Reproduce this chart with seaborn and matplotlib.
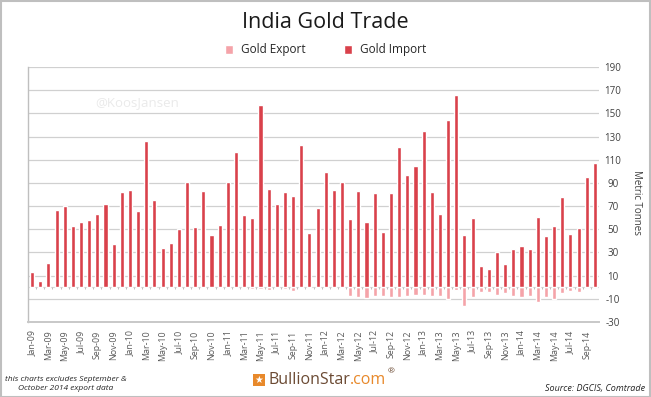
import numpy as np
import pandas as pd
import matplotlib
matplotlib.use("Agg")
import matplotlib.pyplot as plt
from matplotlib.patches import Rectangle
import seaborn as sns

# ---------------- data ----------------
month_abbr = ["Jan", "Feb", "Mar", "Apr", "May", "Jun",
              "Jul", "Aug", "Sep", "Oct", "Nov", "Dec"]
years = [9, 10, 11, 12, 13, 14]
months = [f"{m}-{y:02d}" for y in years for m in month_abbr][:70]

gold_import = [13, 5, 21, 67, 70, 53, 56, 58, 63, 72, 37, 82,
               84, 66, 126, 75, 34, 38, 50, 91, 52, 83, 45, 54,
               91, 117, 62, 60, 157, 85, 72, 82, 79, 123, 47, 68,
               99, 84, 91, 59, 83, 56, 81, 48, 81, 121, 97, 105,
               135, 82, 63, 144, 166, 45, 60, 18, 16, 30, 20, 33,
               36, 33, 61, 44, 53, 78, 46, 51, 95, 107]

gold_export = [-0.3, -0.3, -0.3, -0.3, -0.3, -0.3, -0.3, -0.3, -0.3, -0.3, -0.3, -0.3,
               -0.3, -0.3, -0.3, -0.3, -0.3, -0.3, -0.3, -0.3, -0.3, -0.3, -0.3, -0.5,
               -0.5, -1, -1, -1.5, -1.5, -2.5, -1, -1.5, -3, -1, -1, -1,
               -1, -1, -1, -7.3, -8.4, -9.3, -7.6, -7.6, -8.2, -8.2, -7.9, -6.5,
               -7, -7.3, -7.6, -10, -2, -16.2, -8.2, -4.3, -4, -7, -4.8, -7.3,
               -8.2, -7.3, -12.6, -8.2, -10, -5.4, -3.2, -3.7, 0, 0]

y_ticks = list(range(-30, 191, 20))

IMP_COLOR = "#D9414B"
EXP_COLOR = "#F5A3A9"

df = pd.DataFrame({"month": months, "imp": gold_import, "exp": gold_export})

# ---------------- figure ----------------
sns.set_theme(style="white")
plt.rcParams["font.family"] = ["Open Sans", "DejaVu Sans"]

W, H = 651, 397
fig = plt.figure(figsize=(W / 100, H / 100), dpi=100)
ax = fig.add_axes([28 / W, (H - 322) / H, 571 / W, 255 / H])

ax.axhline(0, color="#d9d9d9", lw=0.8, zorder=0.5)
ax.vlines(np.arange(-0.5, len(months), 1), 0, -1.3, color="#bfbfbf", lw=0.7, zorder=0.5)

sns.barplot(data=df, x="month", y="exp", color=EXP_COLOR, width=0.5,
            errorbar=None, saturation=1, ax=ax, label="Gold Export")
sns.barplot(data=df, x="month", y="imp", color=IMP_COLOR, width=0.5,
            errorbar=None, saturation=1, ax=ax, label="Gold Import")

ax.set_xlim(-0.5, len(months) - 0.5)
ax.set_ylim(y_ticks[0], y_ticks[-1])
ax.set_xlabel("")
ax.set_ylabel("")

ax.yaxis.tick_right()
ax.set_yticks(y_ticks)
ax.set_yticklabels([str(t) for t in y_ticks], ha="center")
ax.yaxis.grid(True, color="#d0d0d0", lw=0.9)
ax.set_axisbelow(True)
ax.tick_params(axis="y", length=0, pad=10, labelsize=7, labelcolor="#404040")

ax.set_xticks(range(0, len(months), 2))
ax.set_xticklabels(months[::2], rotation=90, fontsize=6.4, color="#595959")
ax.tick_params(axis="x", length=0, pad=6)

for s in ["top", "right"]:
    ax.spines[s].set_visible(False)
ax.spines["left"].set_color("#bfbfbf")
ax.spines["left"].set_linewidth(1)
ax.spines["bottom"].set_color("#c8c8c8")
ax.spines["bottom"].set_linewidth(1.4)

handles, labels = ax.get_legend_handles_labels()
if ax.get_legend() is not None:
    ax.get_legend().remove()
fig.legend(handles, labels, loc="center", bbox_to_anchor=(0.5, 1 - 50 / H),
           ncol=2, frameon=False, fontsize=8.5, handlelength=0.7, handleheight=0.7,
           columnspacing=3.2, handletextpad=0.7)

fig.text(0.5, 1 - 22 / H, "India Gold Trade", ha="center", va="center",
         fontsize=15.5, color="#1a1a1a")
fig.text(137 / W, 1 - 103 / H, "@KoosJansen", ha="center", va="center",
         fontsize=9.5, color="#eaeaea")
fig.text(636 / W, 1 - 202 / H, "Metric Tonnes", rotation=270, ha="center",
         va="center", fontsize=7, color="#404040")

fig.text(66 / W, 1 - 384 / H, "this charts excludes September &\nOctober 2014 export data",
         ha="center", va="center", fontsize=6, style="italic", color="#262626",
         linespacing=1.5)
fig.text(645 / W, 1 - 389 / H, "Source: DGCIS, Comtrade", ha="right", va="center",
         fontsize=6.5, style="italic", color="#262626")

# logo
fig.add_artist(Rectangle((253 / W, (H - 386) / H), 12 / W, 12 / H,
                         transform=fig.transFigure, facecolor="#E8892B",
                         edgecolor="none"))
fig.text(259 / W, 1 - 380 / H, "★", ha="center", va="center", fontsize=7,
         color="white", family="DejaVu Sans")
t1 = fig.text(268 / W, 1 - 380 / H, "BullionStar", ha="left", va="center",
              fontsize=11.5, color="#6B4A33")
fig.canvas.draw()
bb = t1.get_window_extent()
t2 = fig.text(bb.x1 / W, 1 - 380 / H, ".com", ha="left", va="center",
              fontsize=11.5, color="#E8892B")
fig.canvas.draw()
bb2 = t2.get_window_extent()
fig.text(bb2.x1 / W + 2 / W, 1 - 372 / H, "®", ha="left", va="center",
         fontsize=6, color="#6B4A33")

fig.add_artist(Rectangle((0.5 / W, 0.5 / H), 1 - 1.5 / W, 1 - 1.5 / H,
                         transform=fig.transFigure, fill=False,
                         edgecolor="#bfbfbf", lw=1.5))

fig.savefig("out.png", dpi=100)
